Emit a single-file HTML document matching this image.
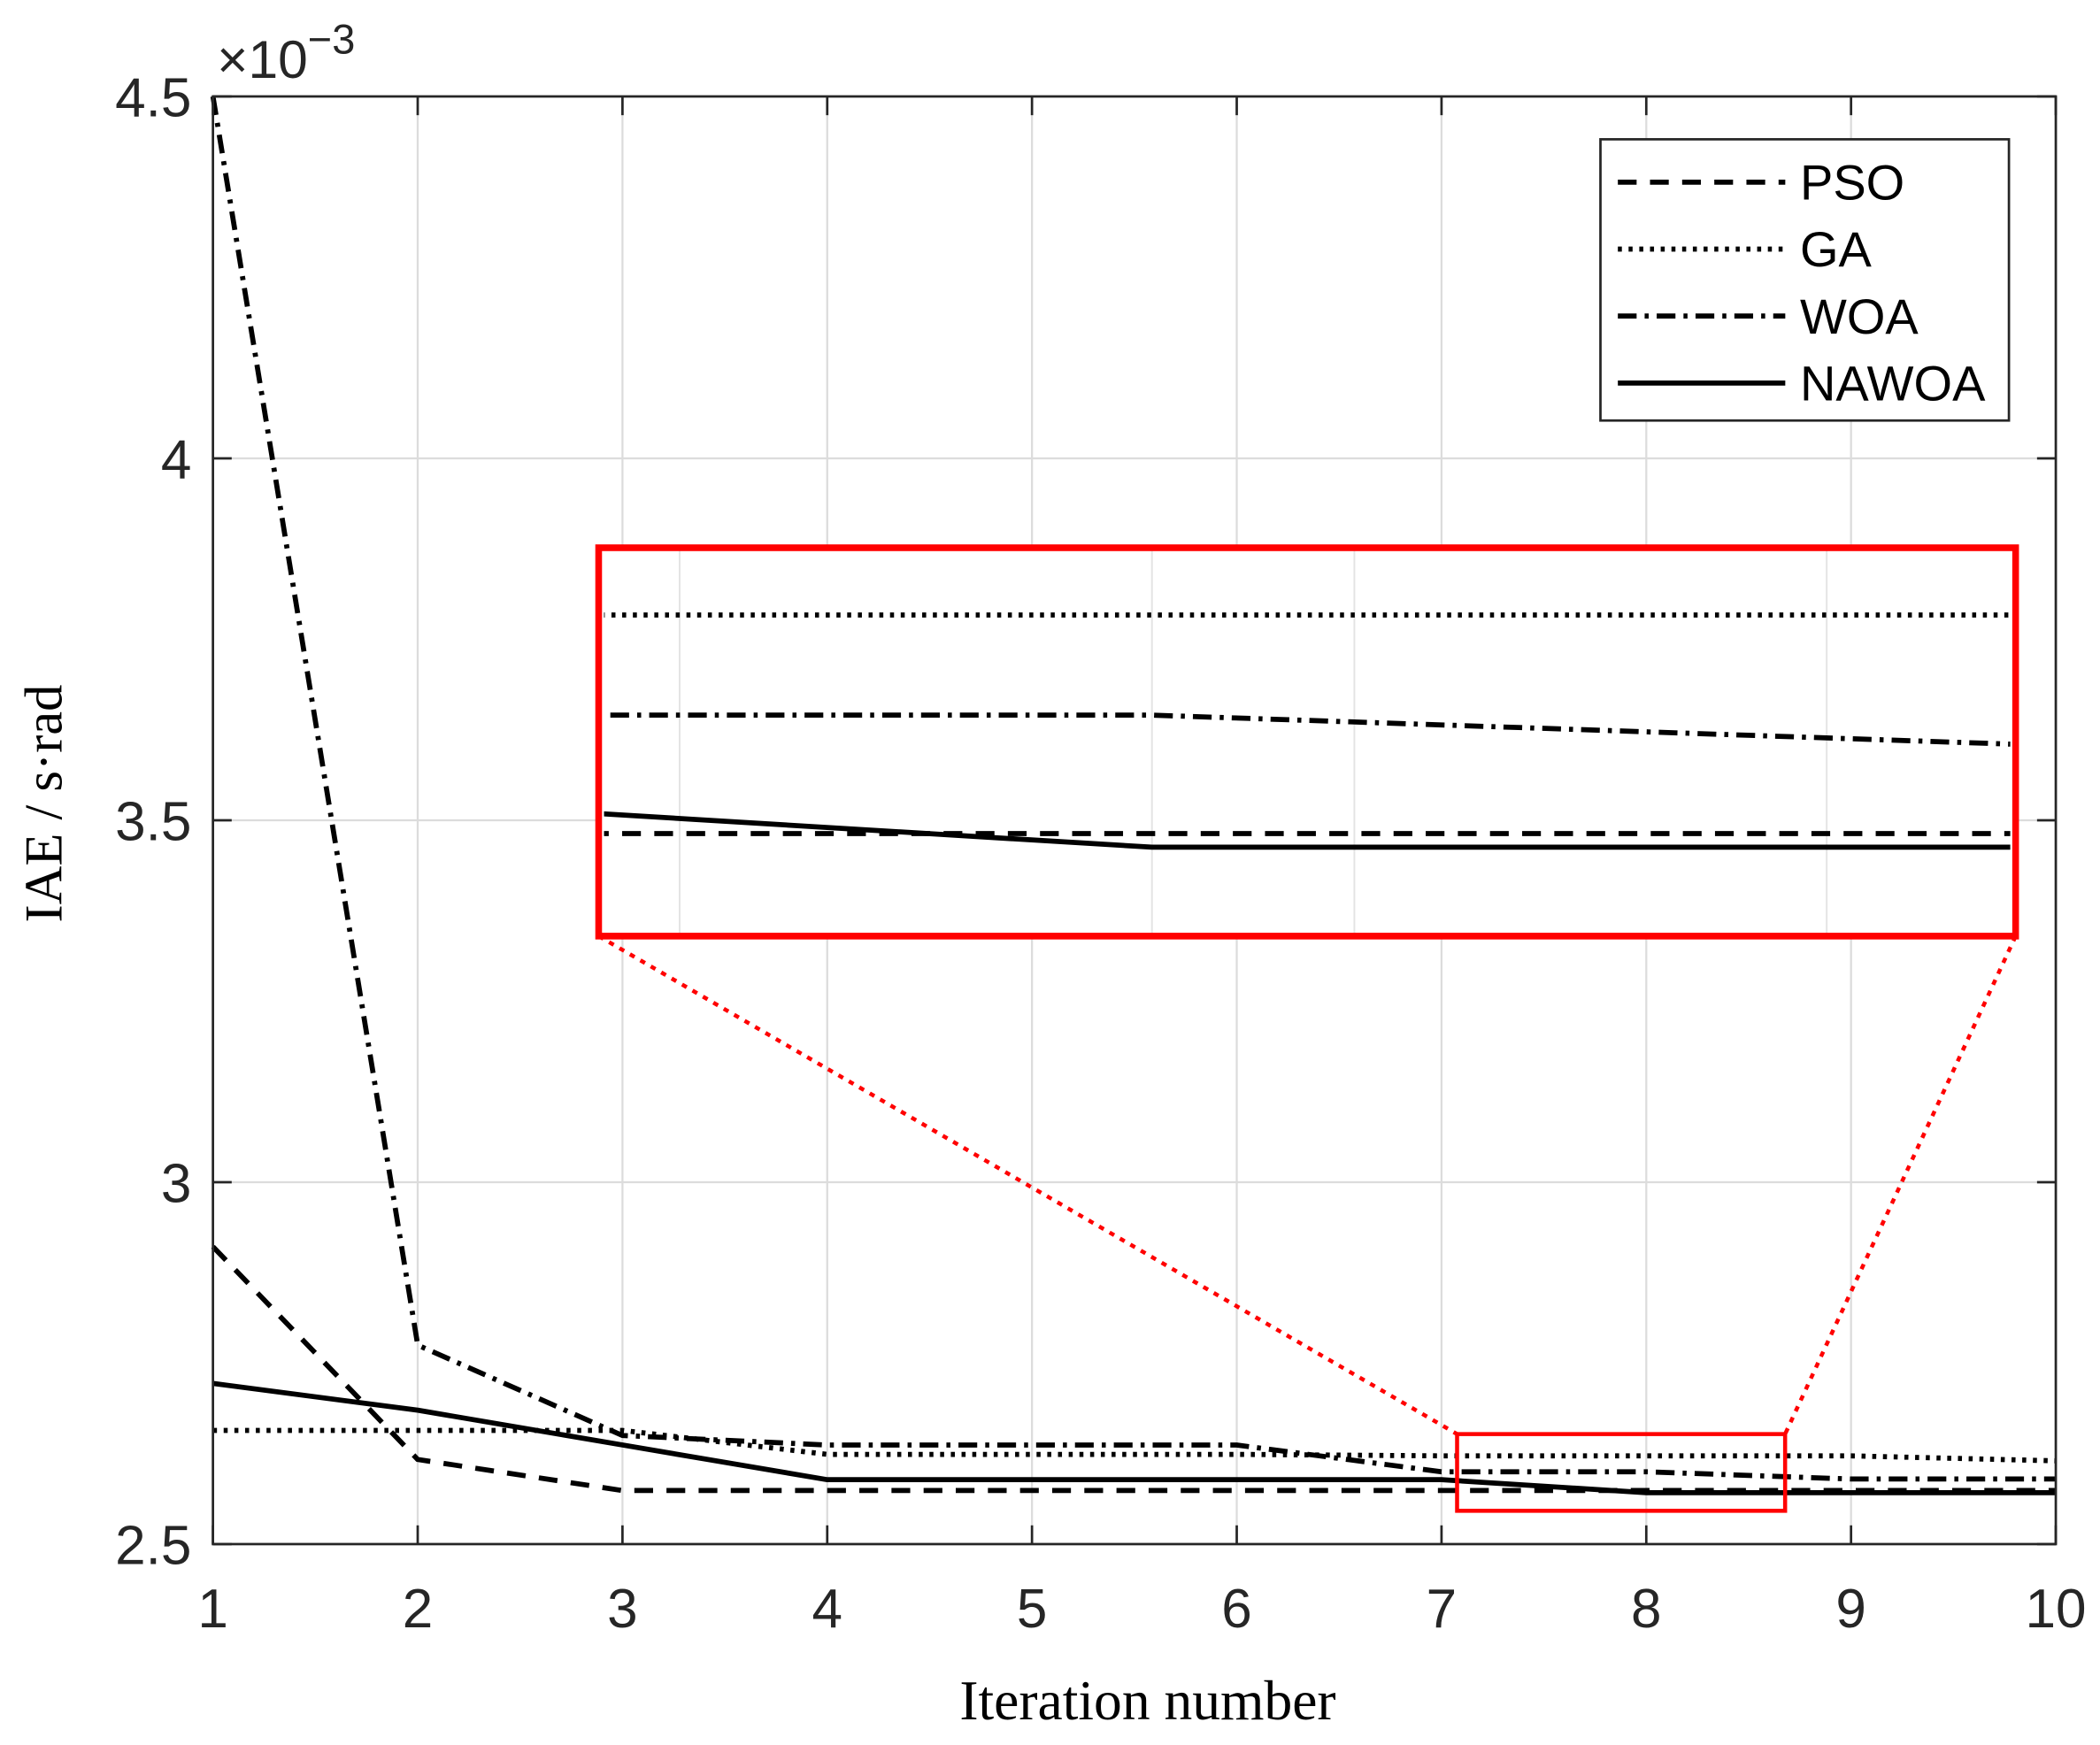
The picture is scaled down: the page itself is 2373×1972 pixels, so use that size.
<!DOCTYPE html>
<html><head><meta charset="utf-8"><style>
html,body{margin:0;padding:0;background:#fff;}
svg{display:block;}
</style></head><body>
<svg id="chart" width="2373" height="1972" viewBox="0 0 1568 1303" xmlns="http://www.w3.org/2000/svg">
<g id="grid"></g>
<g id="series"></g>
<g id="axes"></g>
<g id="inset"></g>
<g id="legend"></g>
</svg>
<script>
const iterations = [1,2,3,4,5,6,7,8,9,10];
const psoValues   = [2.911,2.617,2.574,2.574,2.574,2.574,2.574,2.574,2.574,2.574];
const gaValues    = [2.657,2.657,2.657,2.624,2.624,2.624,2.622,2.622,2.622,2.615];
const woaValues   = [4.500,2.775,2.650,2.637,2.637,2.637,2.600,2.600,2.590,2.590];
const nawoaValues = [2.722,2.685,2.637,2.589,2.589,2.589,2.589,2.571,2.571,2.571];
const xTickLabels = ["1","2","3","4","5","6","7","8","9","10"];
const yTickValues = [2.5,3,3.5,4,4.5];
const yTickLabels = ["2.5","3","3.5","4","4.5"];
const seriesNames = ["PSO","GA","WOA","NAWOA"];

const NS="http://www.w3.org/2000/svg";
const L=159,R=1535,T=72,B=1153;
const xMin=1,xMax=10,yMin=2.5,yMax=4.5;
const xS=v=>L+(v-xMin)/(xMax-xMin)*(R-L);
const yS=v=>B-(v-yMin)/(yMax-yMin)*(B-T);
function mk(tag,attrs,parent){const e=document.createElementNS(NS,tag);for(const k in attrs)e.setAttribute(k,attrs[k]);parent.appendChild(e);return e;}
const styles=[{dash:"14,10"},{dash:"3,5"},{dash:"14,6,3,6"},{dash:"none"}];
const allSeries=[psoValues,gaValues,woaValues,nawoaValues];
const keys=["pso","ga","woa","nawoa"];
const LW=3.8;
const grid=document.getElementById('grid');
iterations.forEach((it,i)=>{
  const g=mk('line',{x1:xS(it),x2:xS(it),y1:T,y2:B,stroke:'#dcdcdc','stroke-width':1.5},grid);
  
  
});
yTickValues.forEach(v=>{
  const g=mk('line',{x1:L,x2:R,y1:yS(v),y2:yS(v),stroke:'#dcdcdc','stroke-width':1.5},grid);
  
  
});
const ser=document.getElementById('series');
function pts(vals,xs,ys){return iterations.map((it,i)=>xs(it).toFixed(1)+','+ys(vals[i]).toFixed(1)).join(' ');}
allSeries.forEach((vals,k)=>{
  const p=mk('polyline',{points:pts(vals,xS,yS),fill:'none',stroke:'#000','stroke-width':LW,'stroke-dasharray':styles[k].dash,'stroke-linejoin':'round'},ser);
  
  
});
const ax=document.getElementById('axes');
const box=mk('rect',{x:L,y:T,width:R-L,height:B-T,fill:'none',stroke:'#262626','stroke-width':1.8},ax);


iterations.forEach((it,i)=>{
  mk('line',{x1:xS(it),x2:xS(it),y1:B,y2:B-14,stroke:'#262626','stroke-width':1.8},ax);
  mk('line',{x1:xS(it),x2:xS(it),y1:T,y2:T+14,stroke:'#262626','stroke-width':1.8},ax);
  const t=mk('text',{x:xS(it),y:B+62,'text-anchor':'middle','font-family':'Liberation Sans, sans-serif','font-size':41,fill:'#262626'},ax);
  t.textContent=xTickLabels[i];
  
  
});
yTickValues.forEach((v,i)=>{
  mk('line',{x1:L,x2:L+14,y1:yS(v),y2:yS(v),stroke:'#262626','stroke-width':1.8},ax);
  mk('line',{x1:R,x2:R-14,y1:yS(v),y2:yS(v),stroke:'#262626','stroke-width':1.8},ax);
  const t=mk('text',{x:L-16,y:yS(v)+15,'text-anchor':'end','font-family':'Liberation Sans, sans-serif','font-size':41,fill:'#262626'},ax);
  t.textContent=yTickLabels[i];
  
  
});
const ex=mk('text',{x:162,y:58,'font-family':'Liberation Sans, sans-serif','font-size':40,fill:'#262626'},ax);
ex.innerHTML='×10<tspan dy="-18" font-size="31">−3</tspan>';


const yl=mk('text',{x:0,y:0,transform:'translate(46,600) rotate(-90)','text-anchor':'middle','font-family':'Liberation Serif, serif','font-size':40,fill:'#000'},ax);
yl.textContent='IAE / s·rad';


const xl=mk('text',{x:857,y:1284,'text-anchor':'middle','font-family':'Liberation Serif, serif','font-size':42,fill:'#000'},ax);
xl.textContent='Iteration number';


// inset
const ins=document.getElementById('inset');
const IL=447,IR=1505,IT=409,IB=699;
const ixMin=7.59,ixMax=8.64;
const ixS=v=>IL+(v-ixMin)/(ixMax-ixMin)*(IR-IL);
const iyS=v=>534+(2.60-v)*3400;
const sx0=7.076,sx1=8.678,sy0=2.546,sy1=2.652;
const small=mk('rect',{x:xS(sx0),y:yS(sy1),width:xS(sx1)-xS(sx0),height:yS(sy0)-yS(sy1),fill:'none',stroke:'#ff0000','stroke-width':3},ins);


mk('line',{x1:IL,y1:IB,x2:xS(sx0),y2:yS(sy1),stroke:'#ff0000','stroke-width':3,'stroke-dasharray':'4,5'},ins);
mk('line',{x1:IR,y1:IB,x2:xS(sx1),y2:yS(sy1),stroke:'#ff0000','stroke-width':3,'stroke-dasharray':'4,5'},ins);
mk('rect',{x:IL,y:IT,width:IR-IL,height:IB-IT,fill:'#fff'},ins);
const defs=mk('defs',{},ins);
const cp=mk('clipPath',{id:'insetClip'},defs);
mk('rect',{x:IL+4,y:IT,width:IR-IL-8,height:IB-IT},cp);
const ig=mk('g',{'clip-path':'url(#insetClip)'},ins);
[7.65,8,8.15,8.5].forEach(v=>{
  mk('line',{x1:ixS(v),x2:ixS(v),y1:IT,y2:IB,stroke:'#e4e4e4','stroke-width':1.3},ig);
});
allSeries.forEach((vals,k)=>{
  const p=mk('polyline',{points:pts(vals,ixS,iyS),fill:'none',stroke:'#000','stroke-width':LW,'stroke-dasharray':styles[k].dash},ig);
  
  
});
const ib=mk('rect',{x:IL,y:IT,width:IR-IL,height:IB-IT,fill:'none',stroke:'#ff0000','stroke-width':5},ins);


// legend
const lg=document.getElementById('legend');
const lb=mk('rect',{x:1195,y:104,width:305,height:210,fill:'#fff',stroke:'#262626','stroke-width':1.8},lg);


seriesNames.forEach((n,k)=>{
  const y=136+k*50;
  const g=mk('g',{},lg);
  
  
  mk('line',{x1:1208,x2:1333,y1:y,y2:y,stroke:'#000','stroke-width':LW,'stroke-dasharray':styles[k].dash},g);
  const t=mk('text',{x:1344,y:y+13,'font-family':'Liberation Sans, sans-serif','font-size':37,fill:'#000'},g);
  t.textContent=n;
});
</script>
</body></html>
